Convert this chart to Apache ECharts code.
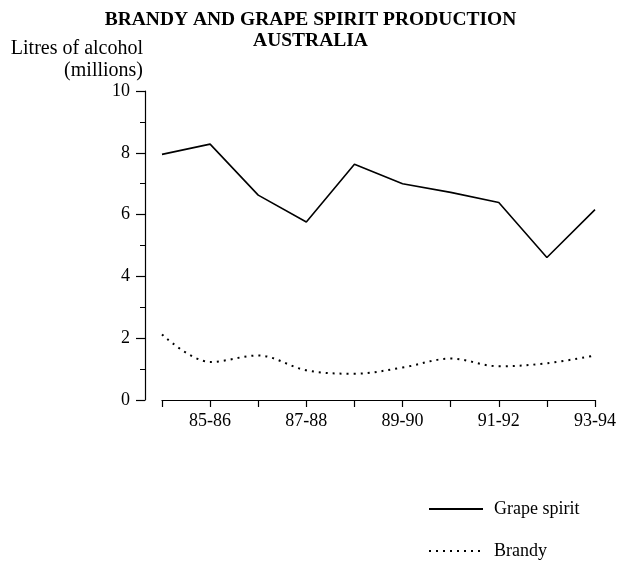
<!DOCTYPE html>
<html lang="en">
<head>
	<meta charset="UTF-8">
	<title>Brandy and grape spirit production</title>
	<style type="text/css">
	html, body {
		margin: 0;
		padding: 0;
		background: #fff;
	}
	.chart {
		width: 621px;
		height: 561px;
	}
	</style>
</head>
<body>
	<div class="chart"></div>

	<script type="text/javascript" src="https://cdn.jsdelivr.net/npm/echarts@6/dist/echarts.min.js"></script>
	<script type="text/javascript">

		// data
		var years = ['84-85', '85-86', '86-87', '87-88', '88-89', '89-90', '90-91', '91-92', '92-93', '93-94'];
		var grapeSpirit = [7.95, 8.28, 6.63, 5.76, 7.63, 7.0, 6.72, 6.39, 4.61, 6.16];
		var brandy = [2.12, 1.23, 1.44, 0.96, 0.85, 1.05, 1.34, 1.09, 1.19, 1.44];
		var yTicks = [0, 2, 4, 6, 8, 10];

		var font = '"Liberation Serif", "Times New Roman", serif';
		var chart = echarts.init(document.getElementsByClassName('chart')[0]);

		// one legend per entry so each row sits where it should
		function legendRow (name, top) {
			return {
				left: 423,
				top: top,
				itemWidth: 54,
				itemHeight: 14,
				itemStyle: { opacity: 0 },
				textStyle: { fontFamily: font, fontSize: 18, color: '#000', padding: [0, 0, 0, 6] },
				data: [name]
			};
		}

		// y axis title, right aligned against the axis
		function axisNameLine (text, y) {
			return {
				type: 'text',
				x: 143,
				y: y,
				style: {
					text: text,
					align: 'right',
					verticalAlign: 'middle',
					font: '20px ' + font,
					fill: '#000'
				}
			};
		}

		var option = {
			backgroundColor: '#fff',
			animation: false,
			title: [{
				text: 'BRANDY AND GRAPE SPIRIT PRODUCTION',
				left: 'center',
				top: 5,
				textStyle: { fontFamily: font, fontSize: 19.5, fontWeight: 'bold', color: '#000' }
			}, {
				text: 'AUSTRALIA',
				left: 'center',
				top: 26,
				textStyle: { fontFamily: font, fontSize: 19.5, fontWeight: 'bold', color: '#000' }
			}],
			graphic: [
				axisNameLine('Litres of alcohol', 49),
				axisNameLine('(millions)', 71)
			],
			legend: [
				legendRow('Grape spirit', 495),
				legendRow('Brandy', 537)
			],
			grid: {
				left: 162,
				right: 26,
				top: 91,
				bottom: 161
			},
			xAxis: {
				type: 'category',
				data: years,
				boundaryGap: false,
				axisLine: { lineStyle: { color: '#000', width: 1.2 } },
				axisTick: { length: 7, interval: 0, lineStyle: { color: '#000', width: 1.2 } },
				axisLabel: {
					interval: function (index) { return index % 2 === 1; },
					margin: 12,
					fontFamily: font,
					fontSize: 18,
					color: '#000'
				},
				splitLine: { show: false }
			},
			yAxis: {
				type: 'value',
				min: yTicks[0],
				max: yTicks[yTicks.length - 1],
				interval: 2,
				offset: 17,
				axisLine: { show: true, lineStyle: { color: '#000', width: 1.2 } },
				axisTick: { show: true, length: 9, lineStyle: { color: '#000', width: 1.2 } },
				minorTick: { show: true, splitNumber: 2, length: 5, lineStyle: { color: '#000', width: 1 } },
				axisLabel: { margin: 15, fontFamily: font, fontSize: 18, color: '#000' },
				splitLine: { show: false }
			},
			series: [{
				name: 'Grape spirit',
				type: 'line',
				data: grapeSpirit,
				symbol: 'none',
				color: '#000',
				lineStyle: { color: '#000', width: 1.6 }
			}, {
				name: 'Brandy',
				type: 'line',
				data: brandy,
				symbol: 'none',
				smooth: 0.35,
				color: '#000',
				lineStyle: { color: '#000', width: 2, type: [2, 5] }
			}]
		};

		chart.setOption(option);
	</script>
</body>
</html>
